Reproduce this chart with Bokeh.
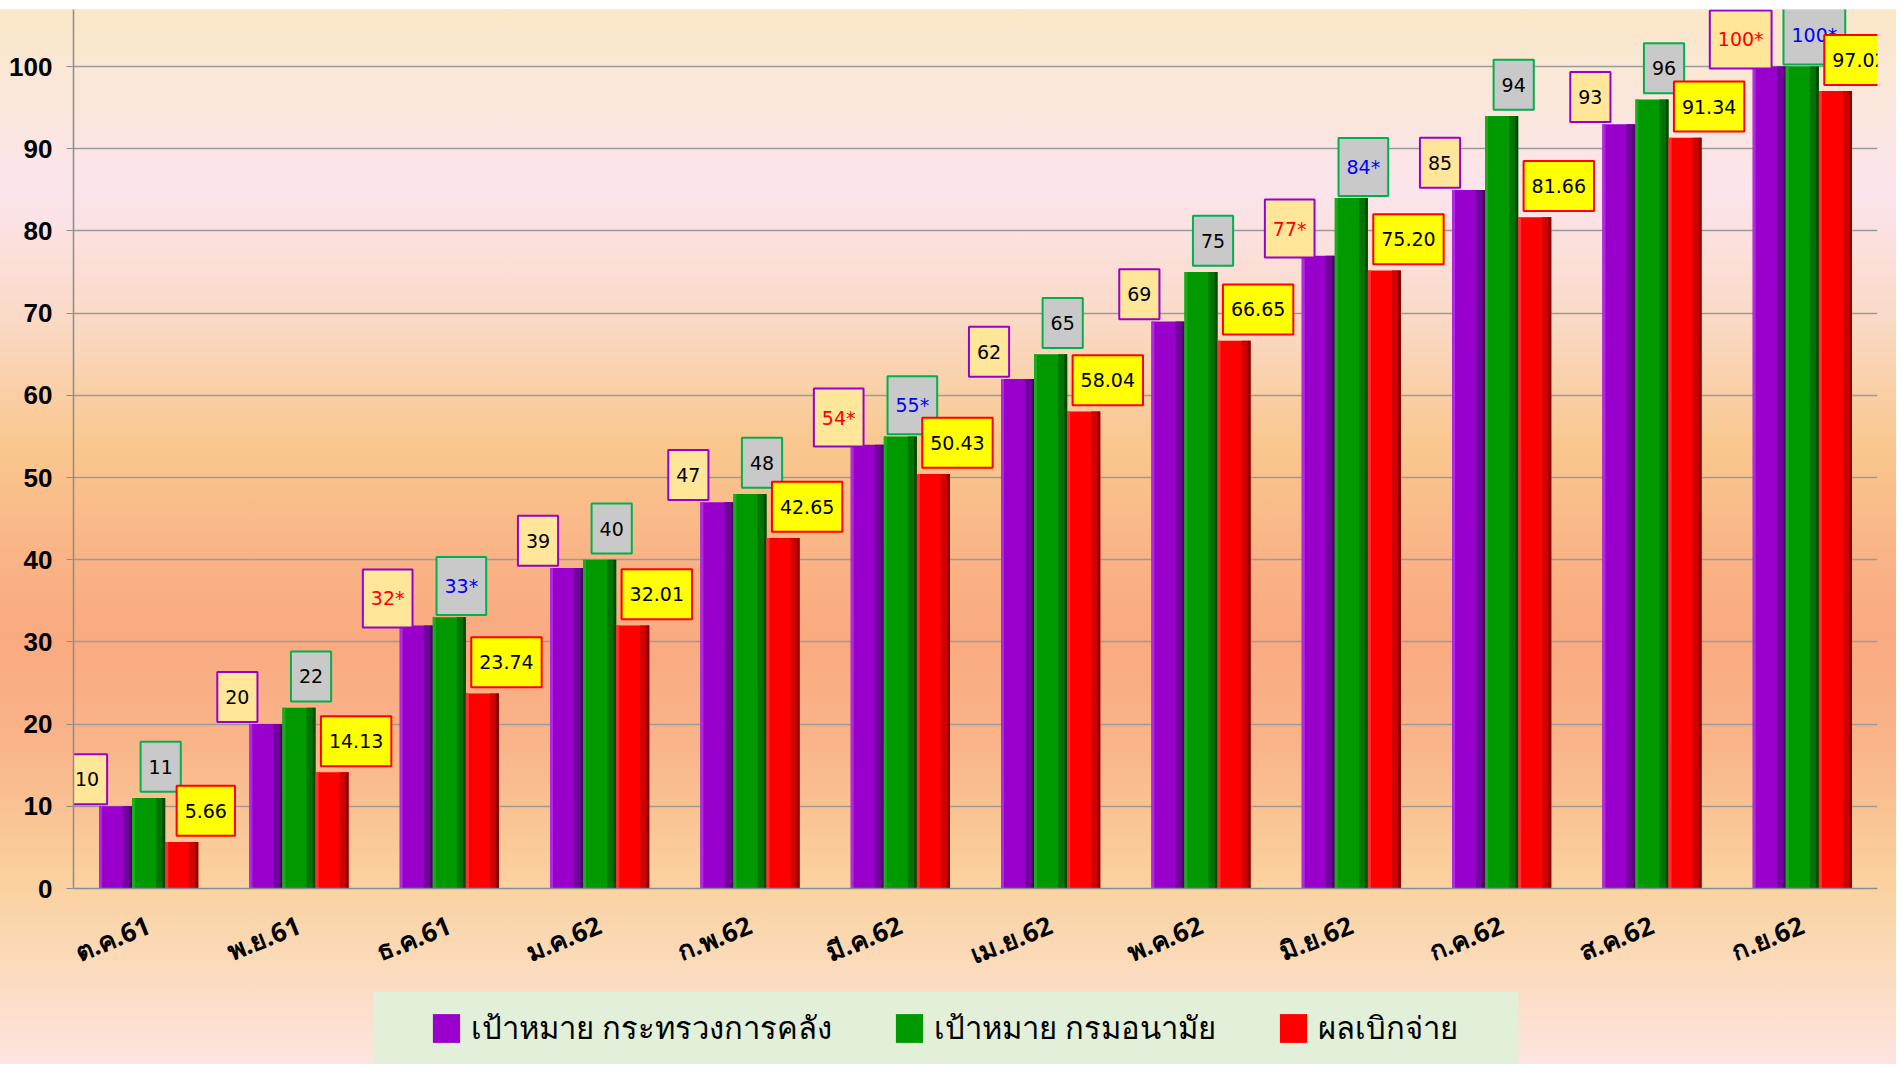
from bokeh.plotting import figure
from bokeh.layouts import column
from bokeh.models import (Range1d, SingleIntervalTicker, Legend, LegendItem,
                          ColumnDataSource, BoxAnnotation)
from bokeh.transform import dodge
from bokeh.core.properties import value
from bokeh.embed import file_html
from bokeh.resources import INLINE

# ---------------- data ----------------
months = ["ต.ค.61", "พ.ย.61", "ธ.ค.61", "ม.ค.62", "ก.พ.62", "มี.ค.62",
          "เม.ย.62", "พ.ค.62", "มิ.ย.62", "ก.ค.62", "ส.ค.62", "ก.ย.62"]
mof_target = [10, 20, 32, 39, 47, 54, 62, 69, 77, 85, 93, 100]
doh_target = [11, 22, 33, 40, 48, 55, 65, 75, 84, 94, 96, 100]
disbursed = [5.66, 14.13, 23.74, 32.01, 42.65, 50.43, 58.04, 66.65, 75.20,
             81.66, 91.34, 97.02]
mof_text = ["10", "20", "32*", "39", "47", "54*", "62", "69", "77*", "85",
            "93", "100*"]
doh_text = ["11", "22", "33*", "40", "48", "55*", "65", "75", "84*", "94",
            "96", "100*"]
disbursed_text = ["5.66", "14.13", "23.74", "32.01", "42.65", "50.43",
                  "58.04", "66.65", "75.20", "81.66", "91.34", "97.02"]
series_names = ["เป้าหมาย กระทรวงการคลัง", "เป้าหมาย กรมอนามัย", "ผลเบิกจ่าย"]
y_ticks_interval = 10

# ---------------- style ----------------
PURPLE, PURPLE_D1, PURPLE_D2, PURPLE_L = "#9900CC", "#7300A0", "#4A0066", "#AE2BE0"
GREEN, GREEN_D1, GREEN_D2, GREEN_L = "#009900", "#007400", "#004A00", "#1AAA1A"
RED, RED_D1, RED_D2, RED_L = "#FF0000", "#D00000", "#8A0000", "#FF3030"

src = ColumnDataSource(dict(
    month=months, mof=mof_target, doh=doh_target, paid=disbursed,
    mof_text=mof_text, doh_text=doh_text, paid_text=disbursed_text,
    mof_y=[v + 3.3 for v in mof_target],
    doh_y=[v + 3.8 for v in doh_target],
    paid_y=[v + 3.8 for v in disbursed],
    mof_color=["#FF0000" if t.endswith("*") else "#000000" for t in mof_text],
    doh_color=["#0000FF" if t.endswith("*") else "#000000" for t in doh_text],
))

FIG_W = 1896
p = figure(x_range=months, y_range=Range1d(0, 106.95),
           width=FIG_W, height=991, output_backend="svg",
           toolbar_location=None, min_border_left=73, min_border_right=19,
           min_border_top=9, min_border_bottom=102)
p.x_range.range_padding = 0
p.x_range.factor_padding = 0
p.border_fill_alpha = 0
p.background_fill_alpha = 0
p.outline_line_color = None

W = 0.22
series = [
    ("mof", -W, PURPLE, PURPLE_D1, PURPLE_D2, PURPLE_L),
    ("doh", 0.0, GREEN, GREEN_D1, GREEN_D2, GREEN_L),
    ("paid", W, RED, RED_D1, RED_D2, RED_L),
]
for field, off, c, d1, d2, lt in series:
    p.vbar(x=dodge("month", off, range=p.x_range), top=field, width=W,
           source=src, fill_color=c, line_color=None)
    p.vbar(x=dodge("month", off - 0.1, range=p.x_range), top=field,
           width=0.02, source=src, fill_color=lt, line_color=None)
    p.vbar(x=dodge("month", off + 0.07, range=p.x_range), top=field,
           width=0.04, source=src, fill_color=d1, line_color=None)
    p.vbar(x=dodge("month", off + 0.1, range=p.x_range), top=field,
           width=0.02, source=src, fill_color=d2, line_color=None)

label_common = dict(text_font=value("DejaVu Sans"), text_font_size="19px",
                    text_align="center", text_baseline="middle",
                    border_line_width=2,
                    padding=dict(left=8, right=8, top=18, bottom=18))
p.text(x=dodge("month", -0.41, range=p.x_range), y="mof_y",
       text="mof_text", text_color="mof_color", source=src,
       background_fill_color="#FFE699", border_line_color="#9900CC",
       **label_common)
p.text(x=dodge("month", 0.08, range=p.x_range), y="doh_y",
       text="doh_text", text_color="doh_color", source=src,
       background_fill_color="#C9C9C9", border_line_color="#00B050",
       **label_common)
p.text(x=dodge("month", W + 0.16, range=p.x_range), y="paid_y",
       text="paid_text", text_color="#000000", source=src,
       background_fill_color="#FFFF00", border_line_color="#FF0000",
       **label_common)

# axes
p.yaxis.ticker = SingleIntervalTicker(interval=y_ticks_interval, num_minor_ticks=0)
p.yaxis.major_label_text_font = "Liberation Sans"
p.yaxis.major_label_text_font_style = "bold"
p.yaxis.major_label_text_font_size = "26px"
p.yaxis.major_label_text_color = "#000000"
p.yaxis.axis_line_color = "#8C8C8C"
p.yaxis.axis_line_width = 1.5
p.yaxis.major_tick_line_color = "#8C8C8C"
p.yaxis.major_tick_out = 7
p.yaxis.major_tick_in = 0
p.yaxis.minor_tick_line_color = None
p.yaxis.major_label_standoff = 14

p.xaxis.major_label_orientation = 0.38
p.xaxis.major_label_text_font = "Noto Sans"
p.xaxis.major_label_text_font_style = "bold"
p.xaxis.major_label_text_font_size = "26px"
p.xaxis.major_label_text_color = "#000000"
p.xaxis.axis_line_color = "#8C8C8C"
p.xaxis.axis_line_width = 1.5
p.xaxis.major_tick_line_color = None
p.xaxis.minor_tick_line_color = None
p.xaxis.major_label_standoff = 29

p.xgrid.grid_line_color = None
p.ygrid.grid_line_color = "#9A9A9A"
p.ygrid.grid_line_width = 1.5

# ---------------- legend strip ----------------
lf = figure(x_range=months, y_range=Range1d(-2, -1), width=FIG_W, height=73,
            output_backend="svg", toolbar_location=None, min_border=0)
lf.xaxis.visible = False
lf.yaxis.visible = False
lf.grid.visible = False
lf.border_fill_alpha = 0
lf.background_fill_alpha = 0
lf.outline_line_color = None

lf.add_layout(BoxAnnotation(left=300, right=1445, left_units="screen",
                            right_units="screen", bottom=-2, top=-1,
                            fill_color="#E2EFD9", fill_alpha=1,
                            line_color=None, level="underlay"))

legend_renderers = []
for field, off, c, d1, d2, lt in series:
    r = lf.vbar(x=dodge("month", off, range=lf.x_range), top=field, width=W,
                source=src, fill_color=c, line_color=None)
    r.visible = False
    legend_renderers.append(r)

legend = Legend(items=[LegendItem(label=n, renderers=[r])
                       for n, r in zip(series_names, legend_renderers)],
                orientation="horizontal", location="left")
legend.label_text_font = "Noto Sans"
legend.label_text_font_size = "31px"
legend.label_text_color = "#000000"
legend.glyph_width = 34
legend.glyph_height = 36
legend.label_standoff = 8
legend.spacing = 60
legend.padding = 4
legend.margin = 356
legend.background_fill_alpha = 0
legend.border_line_color = None
lf.add_layout(legend, "center")

layout = column(p, lf, spacing=0)
layout.styles = {"background": (
    "linear-gradient(to bottom, #FFFFFF 0px, #FFFFFF 9px, #FAE8C8 9px, "
    "#FBE6DC 10%, #FCE4EC 18%, #FADAC6 30%, #F9C78E 42%, #F9B486 52%, "
    "#F9AA80 60%, #F9B48A 70%, #FAD09C 82%, #FBDAB8 90%, #FDE4E0 100%)")}

open("out.html", "w").write(file_html(layout, INLINE))
